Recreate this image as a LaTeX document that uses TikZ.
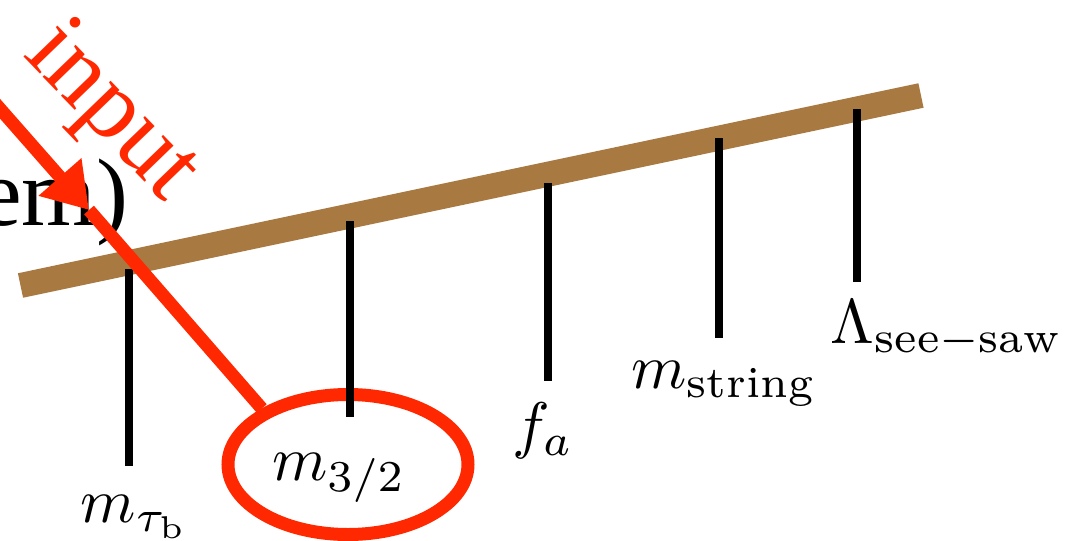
\documentclass[tikz,border=0pt]{standalone}
\usepackage{fontspec}
\newfontfamily\tms{Liberation Serif}
\usetikzlibrary{arrows.meta,shapes.geometric}
\definecolor{barbrown}{RGB}{168,122,66}
\definecolor{inred}{RGB}{255,40,0}
\newcommand{\biglab}[1]{\scalebox{3.15}{$#1$}}
\begin{document}
\begin{tikzpicture}[x=0.5pt,y=-0.5pt,
  seesaw/.style={line width=12.5pt, draw=barbrown},
  hang/.style={line width=4pt, draw=black},
  lab/.style={inner sep=0pt, anchor=base},
  inputline/.style={line width=6.5pt, draw=inred},
  ring/.style={ellipse, draw=inred, line width=6.5pt, minimum width=120pt, minimum height=70pt, inner sep=0pt},
  bigtext/.style={inner sep=0pt}
]
\useasboundingbox (0,0) rectangle (1067,541);
\clip (0,0) rectangle (1067,541);
% see-saw bar
\coordinate (bl) at (20.5,285.5);
\coordinate (br) at (921,95.5);
\draw[seesaw] (bl) -- (br);
% ellipse around m_{3/2}
\node[ring] (ell) at (348,464.5) {};
% hanging lines
\coordinate (t1) at (129,269); \coordinate (b1) at (129,466);
\coordinate (t2) at (350,221); \coordinate (b2) at (350,417);
\coordinate (t3) at (548,183); \coordinate (b3) at (548,381);
\coordinate (t4) at (719,138); \coordinate (b4) at (719,338);
\coordinate (t5) at (857,109); \coordinate (b5) at (857,282);
\draw[hang] (t1) -- (b1);
\draw[hang] (t2) -- (b2);
\draw[hang] (t3) -- (b3);
\draw[hang] (t4) -- (b4);
\draw[hang] (t5) -- (b5);
% labels
\node[lab] (l1) at (135,522) {\biglab{m_{\tau_{\mathrm{b}}}}};
\node[lab] (l2) at (339,480) {\biglab{m_{3/2}}};
\node[lab] (l3) at (543,446) {\biglab{f_a}};
\node[lab] (l4) at (724,388) {\biglab{m_{\mathrm{string}}}};
\node[lab] (l5) at (947,343) {\biglab{\Lambda_{\mathrm{see-saw}}}};
% cut-off text
\node[bigtext, font=\tms\fontsize{48}{56}\selectfont, anchor=base east] (em) at (129,225) {em)};
% input arrow
\coordinate (s) at (-30,74.6);
\coordinate (tip) at (89,210);
\draw[inputline, -{Triangle[length=22pt,width=27pt]}] (s) -- (tip);
\draw[inputline] (tip) -- (ell.147);
\node[bigtext, font=\tms\fontsize{50}{60}\selectfont, text=inred, rotate=-46, anchor=base west] (inp) at (22,55) {input};
\end{tikzpicture}
\end{document}
